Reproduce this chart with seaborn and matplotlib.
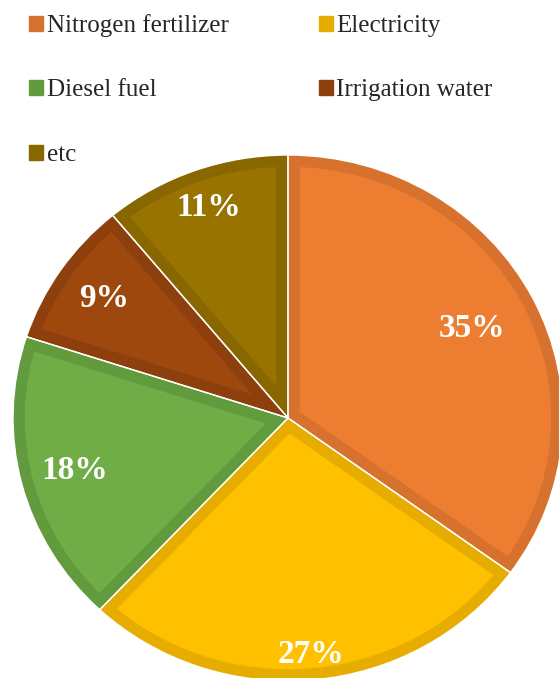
import matplotlib
matplotlib.use("Agg")
import numpy as np
import matplotlib.pyplot as plt
import matplotlib.patches as mpatches
import seaborn as sns

# ---------------------------------------------------------
# data
# ---------------------------------------------------------
sources = ["Nitrogen fertilizer", "Electricity", "Diesel fuel", "Irrigation water", "etc"]
shares = [35, 27, 18, 9, 11]

fill_colors = ["#ED7D31", "#FFC000", "#70AD47", "#9E480E", "#997300"]
edge_colors = ["#D6722E", "#E6AD00", "#629A3E", "#8D400E", "#886600"]

# label distance from centre (fraction of radius)
label_dist = [0.75, 0.905, 0.80, 0.81, 0.85]

# ---------------------------------------------------------
# figure
# ---------------------------------------------------------
sns.set_style("white")
plt.rcParams["font.family"] = ["Liberation Serif", "DejaVu Serif"]

W, H = 559, 678
fig = plt.figure(figsize=(W / 100, H / 100), dpi=100)
ax = fig.add_axes([0, 0, 1, 1])

wedges, _ = ax.pie(shares, colors=fill_colors, startangle=90, counterclock=False,
                   wedgeprops=dict(linewidth=17, joinstyle="miter"))

# thin white separators
ax.pie(shares, colors=["none"] * len(shares), startangle=90, counterclock=False,
       wedgeprops=dict(linewidth=1.0, edgecolor="white", fill=False))

# percentage labels
for w, v, d in zip(wedges, shares, label_dist):
    ang = np.deg2rad((w.theta1 + w.theta2) / 2)
    ax.text(d * np.cos(ang), d * np.sin(ang), f"{v}%", color="white",
            fontsize=24, fontweight="bold", ha="center", va="center")

# slightly elliptic pie, as in the original
cx, cy, rx, ry = 288, 260, 275, 263
ax.set_aspect("auto")
ax.set_xlim(-cx / rx, (W - cx) / rx)
ax.set_ylim(-cy / ry, (H - cy) / ry)
ax.axis("off")

# darker inner border: stroke clipped to the wedge itself
for w, ec in zip(wedges, edge_colors):
    w.set_edgecolor(ec)
    w.set_clip_on(True)
    w.set_clip_path(w)

# legend (row-wise order in two columns)
handles = [mpatches.Patch(color=c, label=s) for s, c in zip(sources, edge_colors)]
order = [0, 2, 4, 1, 3]
fig.legend([handles[i] for i in order], [sources[i] for i in order],
           ncol=2, loc="upper left", bbox_to_anchor=(29 / W, 1 - 14 / H),
           frameon=False, fontsize=18, handlelength=0.56, handleheight=0.56,
           handletextpad=0.15, columnspacing=3.6, labelspacing=1.7,
           borderpad=0, borderaxespad=0)

fig.savefig("out.png", dpi=100)
